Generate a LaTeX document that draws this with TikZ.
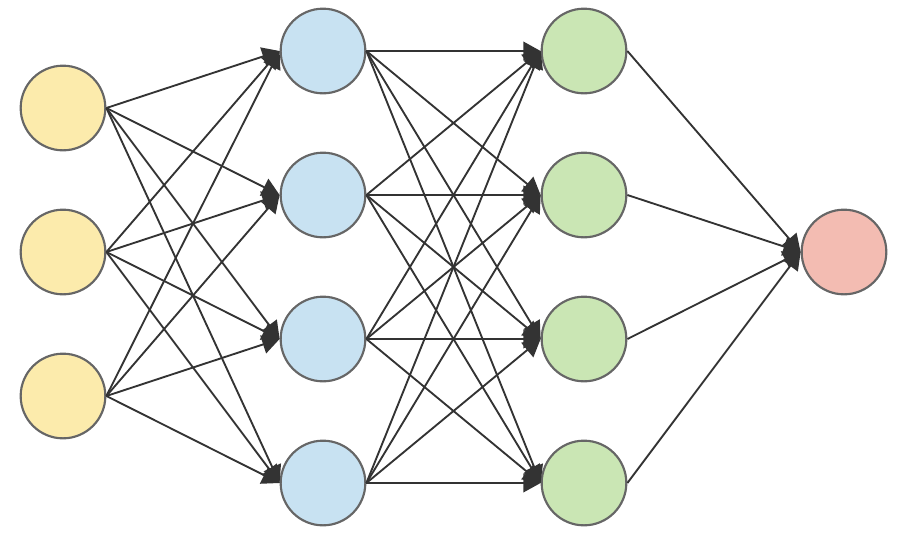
\documentclass[tikz,border=0pt]{standalone}
\usepackage{tikz}
\usetikzlibrary{arrows.meta}

\definecolor{inyellow}{RGB}{252,235,172}
\definecolor{hidblue}{RGB}{200,226,242}
\definecolor{hidgreen}{RGB}{202,230,180}
\definecolor{outpink}{RGB}{243,188,178}

\begin{document}
\begin{tikzpicture}[x=0.75pt,y=0.75pt,yscale=-1,xscale=1,
  neuron/.style={circle,draw={rgb,255:red,102;green,102;blue,102},line width=1.6pt,minimum size=63.5pt,inner sep=0pt},
  conn/.style={draw={rgb,255:red,51;green,51;blue,51},line width=1.4pt,-{Triangle[length=13pt,width=14pt]}}]
\path[use as bounding box] (0,0) rectangle (900,533);

%Shape: Circle -- input layer
\foreach \i/\y in {1/108,2/252,3/396}
  \node[neuron,fill=inyellow] (in\i) at (63,\y) {};
%Shape: Circle -- first hidden layer
\foreach \i/\y in {1/51,2/195,3/339,4/483}
  \node[neuron,fill=hidblue] (ha\i) at (323,\y) {};
%Shape: Circle -- second hidden layer
\foreach \i/\y in {1/51,2/195,3/339,4/483}
  \node[neuron,fill=hidgreen] (hb\i) at (584,\y) {};
%Shape: Circle -- output
\node[neuron,fill=outpink] (out) at (844,252) {};

%Straight Lines
\foreach \i in {1,2,3}
  \foreach \j in {1,...,4}
    \draw[conn] (in\i.east) -- (ha\j.west);
\foreach \i in {1,...,4}
  \foreach \j in {1,...,4}
    \draw[conn] (ha\i.east) -- (hb\j.west);
\foreach \i in {1,...,4}
  \draw[conn] (hb\i.east) -- (out.west);

\end{tikzpicture}
\end{document}
